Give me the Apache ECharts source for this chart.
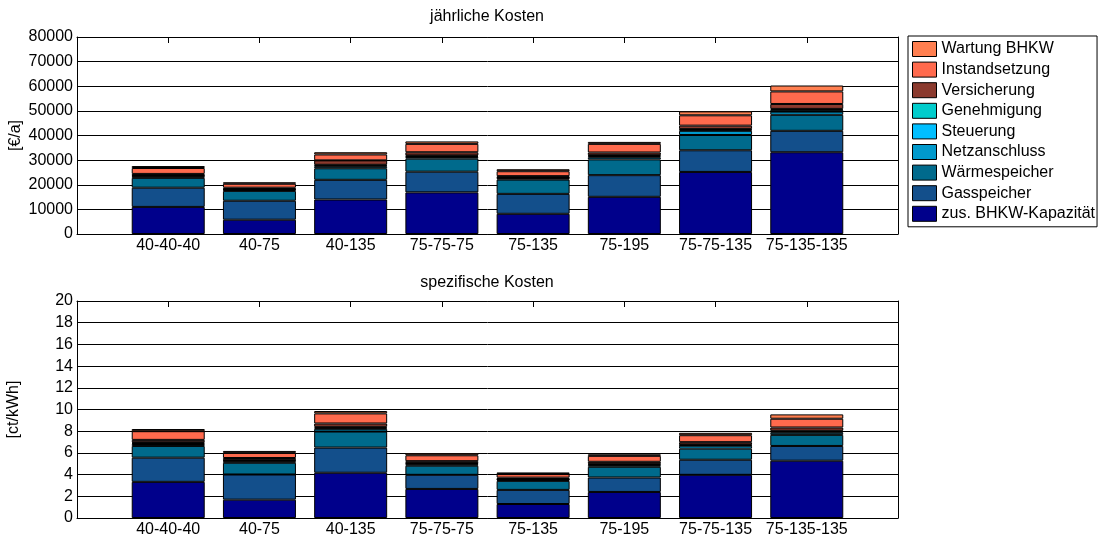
<!DOCTYPE html>
<html><head><meta charset="utf-8">
<script src="https://cdn.jsdelivr.net/npm/echarts@6/dist/echarts.min.js"></script>
<style>html,body{margin:0;padding:0;background:#fff}#c{width:1099px;height:537px}</style>
</head><body><div id="c"></div>
<script>
// ---- data ----
const categories = ['40-40-40','40-75','40-135','75-75-75','75-135','75-195','75-75-135','75-135-135'];
const seriesNames = ['zus. BHKW-Kapazität','Gasspeicher','Wärmespeicher','Netzanschluss','Steuerung','Genehmigung','Versicherung','Instandsetzung','Wartung BHKW'];
const annualTicks = [0,10000,20000,30000,40000,50000,60000,70000,80000];
const specTicks = [0,2,4,6,8,10,12,14,16,18,20];

// jährliche Kosten [€/a]
const annBHKW    = [11000, 5800, 14000, 16900, 8200, 15100, 25200, 33200];
const annGas     = [ 7800, 7700,  8000,  8400, 8100,  8800,  8800,  8700];
const annWaerme  = [ 4000, 4000,  4700,  5300, 5800,  6400,  6200,  6500];
const annNetz    = [  600,  400,   800,   700,  500,   900,  1700,  1300];
const annSteuer  = [  200,  200,   300,   300,  200,   500,   400,   700];
const annGenehm  = [  200,  200,   300,   300,  200,   300,   300,   400];
const annVers    = [  600,  500,  1800,  1300,  500,  1100,  1400,  2000];
const annInstand = [ 2400, 1600,  2400,  3400, 2000,  3500,  4200,  5100];
const annWartung = [  800,  600,   900,  1000,  800,   800,  1600,  2400];

// spezifische Kosten [ct/kWh]
const spBHKW    = [3.33, 1.69, 4.17, 2.68, 1.29, 2.40, 3.98, 5.28];
const spGas     = [2.23, 2.32, 2.32, 1.30, 1.30, 1.33, 1.39, 1.36];
const spWaerme  = [1.08, 1.08, 1.48, 0.84, 0.83, 0.99, 1.02, 1.02];
const spNetz    = [0.18, 0.12, 0.25, 0.12, 0.10, 0.16, 0.27, 0.20];
const spSteuer  = [0.08, 0.06, 0.09, 0.06, 0.04, 0.08, 0.06, 0.11];
const spGenehm  = [0.08, 0.06, 0.09, 0.06, 0.04, 0.05, 0.05, 0.07];
const spVers    = [0.22, 0.20, 0.31, 0.18, 0.12, 0.17, 0.22, 0.30];
const spInstand = [0.80, 0.47, 0.93, 0.54, 0.33, 0.55, 0.64, 0.81];
const spWartung = [0.20, 0.18, 0.22, 0.18, 0.15, 0.14, 0.22, 0.40];

const annualSets = [annBHKW, annGas, annWaerme, annNetz, annSteuer, annGenehm, annVers, annInstand, annWartung];
const specSets = [spBHKW, spGas, spWaerme, spNetz, spSteuer, spGenehm, spVers, spInstand, spWartung];

// ---- styles ----
const colors = ['#00008B','#134F8B','#006A8C','#0099CC','#00BFFF','#00CCCC','#8B3A2E','#FF6A4D','#FF7F50'];
const FONT = 'Liberation Sans, Arial, sans-serif';
const FS = 16;

const padCats = [''].concat(categories, ['']);
const pad = arr => ['-'].concat(arr, ['-']);

function xAxes(gridIndex) {
  return [
    { type:'category', gridIndex, data: padCats, boundaryGap:false, position:'bottom',
      axisLine:{onZero:false, lineStyle:{color:'#000',width:1}}, axisTick:{show:false},
      axisLabel:{interval:0, color:'#000', fontSize:FS, fontFamily:FONT, margin:4}, splitLine:{show:false} },
    { type:'category', gridIndex, data: padCats, boundaryGap:false, position:'top',
      axisLine:{onZero:false, lineStyle:{color:'#000',width:1}},
      axisTick:{show:true, inside:true, length:6, interval:0, lineStyle:{color:'#000'}},
      axisLabel:{show:false}, splitLine:{show:false} }
  ];
}
function yAxes(gridIndex, ticks, name, gap) {
  const mn = ticks[0], mx = ticks[ticks.length-1], iv = ticks[1]-ticks[0];
  return [
    { type:'value', gridIndex, min:mn, max:mx, interval:iv, position:'left',
      name, nameLocation:'middle', nameGap:gap, nameRotate:90, nameMoveOverlap:false,
      nameTextStyle:{color:'#000', fontSize:FS, fontFamily:FONT},
      axisLine:{show:true, onZero:false, lineStyle:{color:'#000',width:1}},
      axisTick:{show:true, inside:true, length:5, lineStyle:{color:'#000'}},
      axisLabel:{color:'#000', fontSize:FS, fontFamily:FONT, margin:4, formatter: v => String(v)},
      splitLine:{show:true, lineStyle:{color:'#000', width:1}} },
    { type:'value', gridIndex, min:mn, max:mx, interval:iv, position:'right',
      axisLine:{show:true, onZero:false, lineStyle:{color:'#000',width:1}},
      axisTick:{show:true, inside:true, length:5, lineStyle:{color:'#000'}},
      axisLabel:{show:false}, splitLine:{show:false} }
  ];
}

const series = [];
annualSets.forEach((arr, i) => series.push({
  name: seriesNames[i], type:'bar', stack:'ann', xAxisIndex:0, yAxisIndex:0, barWidth:73,
  data: pad(arr), itemStyle:{color:colors[i], borderColor:'#000', borderWidth:1}, z: 3
}));
specSets.forEach((arr, i) => series.push({
  name: seriesNames[i], type:'bar', stack:'spec', xAxisIndex:2, yAxisIndex:2, barWidth:73,
  data: pad(arr), itemStyle:{color:colors[i], borderColor:'#000', borderWidth:1}, z: 3
}));

const chart = echarts.init(document.getElementById('c'), null, {renderer:'canvas'});
chart.setOption({
  animation:false,
  backgroundColor:'#fff',
  textStyle:{fontFamily:FONT},
  title:[
    {text:'jährliche Kosten', left:487, top:9, textAlign:'center', padding:0,
     textStyle:{color:'#000', fontSize:FS, fontWeight:'normal', fontFamily:FONT}},
    {text:'spezifische Kosten', left:487, top:275, textAlign:'center', padding:0,
     textStyle:{color:'#000', fontSize:FS, fontWeight:'normal', fontFamily:FONT}}
  ],
  legend:{
    data: seriesNames.slice().reverse(), orient:'vertical', left:908, top:36,
    icon:'rect', itemWidth:24, itemHeight:15, itemGap:4.6,
    padding:[5,2,5,4], borderColor:'#000', borderWidth:1, backgroundColor:'#fff',
    itemStyle:{borderColor:'#000', borderWidth:1},
    textStyle:{color:'#000', fontSize:FS, fontFamily:FONT}
  },
  grid:[
    {left:77, top:37, width:821, height:197, outerBoundsMode:'none', containLabel:false},
    {left:77, top:301, width:821, height:217, outerBoundsMode:'none', containLabel:false}
  ],
  xAxis: xAxes(0).concat(xAxes(1)),
  yAxis: yAxes(0, annualTicks, '[€/a]', 53).concat(yAxes(1, specTicks, '[ct/kWh]', 55)),
  series
});
</script></body></html>
